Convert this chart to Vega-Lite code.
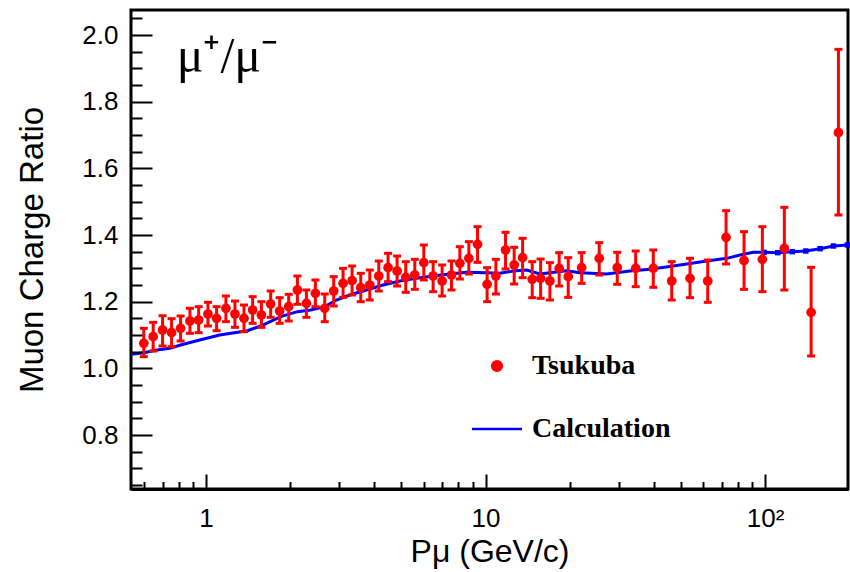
{
  "$schema": "https://vega.github.io/schema/vega-lite/v6.json",
  "width": 717,
  "height": 479,
  "autosize": {"type": "none"},
  "padding": {"left": 131, "top": 10, "right": 2, "bottom": 83},
  "background": "white",
  "config": {"view": {"stroke": "black", "strokeWidth": 3}},
  "resolve": {"axis": {"y": "independent"}},
  "datasets": {
    "pts": [
      {"P": 0.599, "R": 1.075, "lo": 1.035, "hi": 1.120},
      {"P": 0.647, "R": 1.095, "lo": 1.052, "hi": 1.138},
      {"P": 0.699, "R": 1.115, "lo": 1.067, "hi": 1.158},
      {"P": 0.753, "R": 1.107, "lo": 1.065, "hi": 1.149},
      {"P": 0.811, "R": 1.120, "lo": 1.082, "hi": 1.157},
      {"P": 0.876, "R": 1.142, "lo": 1.105, "hi": 1.180},
      {"P": 0.941, "R": 1.145, "lo": 1.107, "hi": 1.185},
      {"P": 1.016, "R": 1.163, "lo": 1.127, "hi": 1.198},
      {"P": 1.091, "R": 1.150, "lo": 1.113, "hi": 1.185},
      {"P": 1.178, "R": 1.180, "lo": 1.140, "hi": 1.217},
      {"P": 1.269, "R": 1.163, "lo": 1.123, "hi": 1.202},
      {"P": 1.367, "R": 1.150, "lo": 1.110, "hi": 1.190},
      {"P": 1.468, "R": 1.175, "lo": 1.135, "hi": 1.215},
      {"P": 1.578, "R": 1.160, "lo": 1.123, "hi": 1.200},
      {"P": 1.703, "R": 1.193, "lo": 1.153, "hi": 1.232},
      {"P": 1.834, "R": 1.172, "lo": 1.135, "hi": 1.212},
      {"P": 1.976, "R": 1.185, "lo": 1.142, "hi": 1.222},
      {"P": 2.123, "R": 1.235, "lo": 1.192, "hi": 1.277},
      {"P": 2.286, "R": 1.195, "lo": 1.153, "hi": 1.235},
      {"P": 2.462, "R": 1.225, "lo": 1.185, "hi": 1.265},
      {"P": 2.659, "R": 1.180, "lo": 1.140, "hi": 1.223},
      {"P": 2.863, "R": 1.232, "lo": 1.187, "hi": 1.275},
      {"P": 3.092, "R": 1.255, "lo": 1.213, "hi": 1.300},
      {"P": 3.331, "R": 1.263, "lo": 1.220, "hi": 1.307},
      {"P": 3.577, "R": 1.242, "lo": 1.200, "hi": 1.285},
      {"P": 3.853, "R": 1.250, "lo": 1.205, "hi": 1.295},
      {"P": 4.150, "R": 1.277, "lo": 1.232, "hi": 1.322},
      {"P": 4.480, "R": 1.302, "lo": 1.260, "hi": 1.345},
      {"P": 4.826, "R": 1.292, "lo": 1.247, "hi": 1.337},
      {"P": 5.183, "R": 1.273, "lo": 1.228, "hi": 1.320},
      {"P": 5.583, "R": 1.280, "lo": 1.237, "hi": 1.327},
      {"P": 6.014, "R": 1.317, "lo": 1.265, "hi": 1.370},
      {"P": 6.493, "R": 1.277, "lo": 1.230, "hi": 1.320},
      {"P": 6.993, "R": 1.262, "lo": 1.217, "hi": 1.310},
      {"P": 7.554, "R": 1.280, "lo": 1.235, "hi": 1.322},
      {"P": 8.091, "R": 1.315, "lo": 1.268, "hi": 1.365},
      {"P": 8.714, "R": 1.330, "lo": 1.283, "hi": 1.380},
      {"P": 9.362, "R": 1.372, "lo": 1.318, "hi": 1.425},
      {"P": 10.13, "R": 1.252, "lo": 1.200, "hi": 1.302},
      {"P": 10.89, "R": 1.277, "lo": 1.223, "hi": 1.327},
      {"P": 11.79, "R": 1.355, "lo": 1.298, "hi": 1.408},
      {"P": 12.66, "R": 1.310, "lo": 1.253, "hi": 1.363},
      {"P": 13.57, "R": 1.332, "lo": 1.272, "hi": 1.390},
      {"P": 14.69, "R": 1.267, "lo": 1.212, "hi": 1.320},
      {"P": 15.74, "R": 1.270, "lo": 1.210, "hi": 1.328},
      {"P": 16.99, "R": 1.262, "lo": 1.205, "hi": 1.317},
      {"P": 18.34, "R": 1.300, "lo": 1.247, "hi": 1.347},
      {"P": 19.76, "R": 1.275, "lo": 1.213, "hi": 1.332},
      {"P": 22.07, "R": 1.302, "lo": 1.255, "hi": 1.347},
      {"P": 25.51, "R": 1.330, "lo": 1.280, "hi": 1.377},
      {"P": 29.59, "R": 1.302, "lo": 1.252, "hi": 1.348},
      {"P": 34.44, "R": 1.300, "lo": 1.245, "hi": 1.352},
      {"P": 39.82, "R": 1.300, "lo": 1.243, "hi": 1.355},
      {"P": 46.35, "R": 1.262, "lo": 1.205, "hi": 1.320},
      {"P": 53.89, "R": 1.270, "lo": 1.212, "hi": 1.330},
      {"P": 62.35, "R": 1.262, "lo": 1.198, "hi": 1.325},
      {"P": 72.52, "R": 1.393, "lo": 1.313, "hi": 1.473},
      {"P": 84.10, "R": 1.323, "lo": 1.237, "hi": 1.410},
      {"P": 97.79, "R": 1.327, "lo": 1.230, "hi": 1.425},
      {"P": 117.2, "R": 1.360, "lo": 1.235, "hi": 1.483},
      {"P": 146.1, "R": 1.168, "lo": 1.037, "hi": 1.303},
      {"P": 183.0, "R": 1.707, "lo": 1.460, "hi": 1.957}
    ],
    "calc": [
      {"P": 0.539, "R": 1.042},
      {"P": 0.599, "R": 1.047},
      {"P": 0.669, "R": 1.055},
      {"P": 0.741, "R": 1.060},
      {"P": 0.811, "R": 1.070},
      {"P": 0.949, "R": 1.085},
      {"P": 1.119, "R": 1.100},
      {"P": 1.406, "R": 1.113},
      {"P": 1.568, "R": 1.127},
      {"P": 1.850, "R": 1.155},
      {"P": 2.123, "R": 1.170},
      {"P": 2.369, "R": 1.175},
      {"P": 2.659, "R": 1.185},
      {"P": 2.928, "R": 1.205},
      {"P": 3.267, "R": 1.220},
      {"P": 3.749, "R": 1.235},
      {"P": 4.299, "R": 1.250},
      {"P": 4.934, "R": 1.262},
      {"P": 5.662, "R": 1.270},
      {"P": 6.493, "R": 1.277},
      {"P": 7.450, "R": 1.283},
      {"P": 8.551, "R": 1.288},
      {"P": 10.08, "R": 1.287},
      {"P": 11.25, "R": 1.285},
      {"P": 12.56, "R": 1.292},
      {"P": 14.03, "R": 1.295},
      {"P": 15.65, "R": 1.283},
      {"P": 16.99, "R": 1.287},
      {"P": 19.50, "R": 1.293},
      {"P": 21.76, "R": 1.287},
      {"P": 27.12, "R": 1.283},
      {"P": 32.86, "R": 1.292},
      {"P": 38.75, "R": 1.297},
      {"P": 46.96, "R": 1.307},
      {"P": 61.85, "R": 1.322},
      {"P": 72.95, "R": 1.330},
      {"P": 81.38, "R": 1.340},
      {"P": 90.8, "R": 1.348},
      {"P": 99.2, "R": 1.348},
      {"P": 111.0, "R": 1.347},
      {"P": 125.2, "R": 1.350},
      {"P": 139.9, "R": 1.352},
      {"P": 157.4, "R": 1.359},
      {"P": 175.6, "R": 1.367},
      {"P": 197.1, "R": 1.370}
    ]
  },
  "layer": [
    {
      "data": {"name": "calc"},
      "mark": {"type": "line", "strokeWidth": 3, "clip": true},
      "encoding": {
        "x": {
          "field": "P", "type": "quantitative", "title": "Pμ (GeV/c)",
          "scale": {"type": "log", "domain": [0.539, 198], "nice": false},
          "axis": {
            "values": [0.6,0.7,0.8,0.9,1,2,3,4,5,6,7,8,9,10,20,30,40,50,60,70,80,90,100],
            "labelExpr": "datum.value==1?'1':datum.value==10?'10':datum.value==100?'10²':''",
            "tickSize": {"condition": {"test": "datum.value==1||datum.value==10||datum.value==100", "value": -15}, "value": -7.5},
            "tickColor": "black", "tickWidth": 2,
            "domainColor": "black", "domainWidth": 3,
            "labelFont": "Liberation Sans", "labelFontSize": 26, "labelColor": "black",
            "labelPadding": 31, "labelOverlap": false, "labelFlush": false,
            "grid": false, "zindex": 1,
            "titleFont": "Liberation Sans", "titleFontSize": 32, "titleFontWeight": "normal", "titleColor": "black",
            "titleY": 62, "titleBaseline": "middle"
          }
        },
        "y": {
          "field": "R", "type": "quantitative", "title": "Muon Charge Ratio",
          "scale": {"domain": [0.638, 2.075], "nice": false, "zero": false},
          "axis": {
            "orient": "left",
            "offset": -21,
            "values": [0.8, 1, 1.2, 1.4, 1.6, 1.8, 2],
            "format": ".1f",
            "tickSize": 21,
            "tickColor": "black", "tickWidth": 2,
            "domain": false,
            "labelFont": "Liberation Sans", "labelFontSize": 26, "labelColor": "black",
            "labelPadding": 13, "labelOverlap": false, "labelFlush": false,
            "grid": false, "zindex": 1,
            "titleFont": "Liberation Sans", "titleFontSize": 33, "titleFontWeight": "normal", "titleColor": "black",
            "titleX": -120, "titleBaseline": "middle"
          }
        },
        "color": {
          "datum": "Calculation",
          "type": "nominal",
          "scale": {"domain": ["Tsukuba", "Calculation"], "range": ["red", "blue"]},
          "legend": {
            "orient": "none", "legendX": 352, "legendY": 342,
            "title": null, "padding": 0,
            "labelFont": "Liberation Serif", "labelFontSize": 28, "labelFontWeight": "bold", "labelColor": "black",
            "labelOffset": 21, "labelLimit": 400, "rowPadding": 35,
            "symbolStrokeWidth": 2.5,
            "encode": {
              "symbols": {
                "update": {
                  "shape": {"signal": "datum.value === 'Calculation' ? 'stroke' : 'circle'"},
                  "size": {"signal": "datum.value === 'Calculation' ? 2500 : 95"},
                  "fill": {"signal": "datum.value === 'Calculation' ? 'transparent' : 'red'"},
                  "stroke": {"signal": "datum.value === 'Calculation' ? 'blue' : 'transparent'"},
                  "opacity": {"value": 1}
                }
              }
            }
          }
        }
      }
    },
    {
      "data": {"name": "calc"},
      "transform": [{"filter": "datum.P >= 99"}],
      "mark": {"type": "square", "color": "blue", "size": 30, "opacity": 1},
      "encoding": {
        "x": {"field": "P", "type": "quantitative", "title": "Pμ (GeV/c)"},
        "y": {
          "field": "R", "type": "quantitative",
          "axis": {
            "orient": "left",
            "offset": -11,
            "values": [0.65,0.7,0.75,0.85,0.9,0.95,1.05,1.1,1.15,1.25,1.3,1.35,1.45,1.5,1.55,1.65,1.7,1.75,1.85,1.9,1.95,2.05],
            "labels": false, "domain": false, "grid": false, "title": null,
            "zindex": 1,
            "tickSize": 11, "tickColor": "black", "tickWidth": 2
          }
        }
      }
    },
    {
      "data": {"name": "pts"},
      "mark": {"type": "rule", "color": "red", "strokeWidth": 3},
      "encoding": {
        "x": {"field": "P", "type": "quantitative", "title": "Pμ (GeV/c)"},
        "y": {"field": "lo", "type": "quantitative", "axis": null},
        "y2": {"field": "hi"}
      }
    },
    {
      "data": {"name": "pts"},
      "mark": {"type": "tick", "orient": "horizontal", "color": "red", "size": 8, "thickness": 3, "opacity": 1},
      "encoding": {
        "x": {"field": "P", "type": "quantitative", "title": "Pμ (GeV/c)"},
        "y": {"field": "lo", "type": "quantitative", "axis": null}
      }
    },
    {
      "data": {"name": "pts"},
      "mark": {"type": "tick", "orient": "horizontal", "color": "red", "size": 8, "thickness": 3, "opacity": 1},
      "encoding": {
        "x": {"field": "P", "type": "quantitative", "title": "Pμ (GeV/c)"},
        "y": {"field": "hi", "type": "quantitative", "axis": null}
      }
    },
    {
      "data": {"name": "pts"},
      "mark": {"type": "circle", "size": 95, "opacity": 1},
      "encoding": {
        "x": {"field": "P", "type": "quantitative", "title": "Pμ (GeV/c)"},
        "y": {"field": "R", "type": "quantitative", "axis": null},
        "color": {"datum": "Tsukuba", "type": "nominal"}
      }
    },
    {
      "data": {"values": [{}]},
      "mark": {"type": "text", "font": "Liberation Serif", "fontSize": 50, "align": "left", "baseline": "alphabetic", "color": "black"},
      "encoding": {
        "x": {"datum": 0.785, "type": "quantitative", "title": "Pμ (GeV/c)"},
        "y": {"datum": 1.889, "type": "quantitative", "axis": null},
        "text": {"value": "μ⁺/μ⁻"}
      }
    }
  ]
}
